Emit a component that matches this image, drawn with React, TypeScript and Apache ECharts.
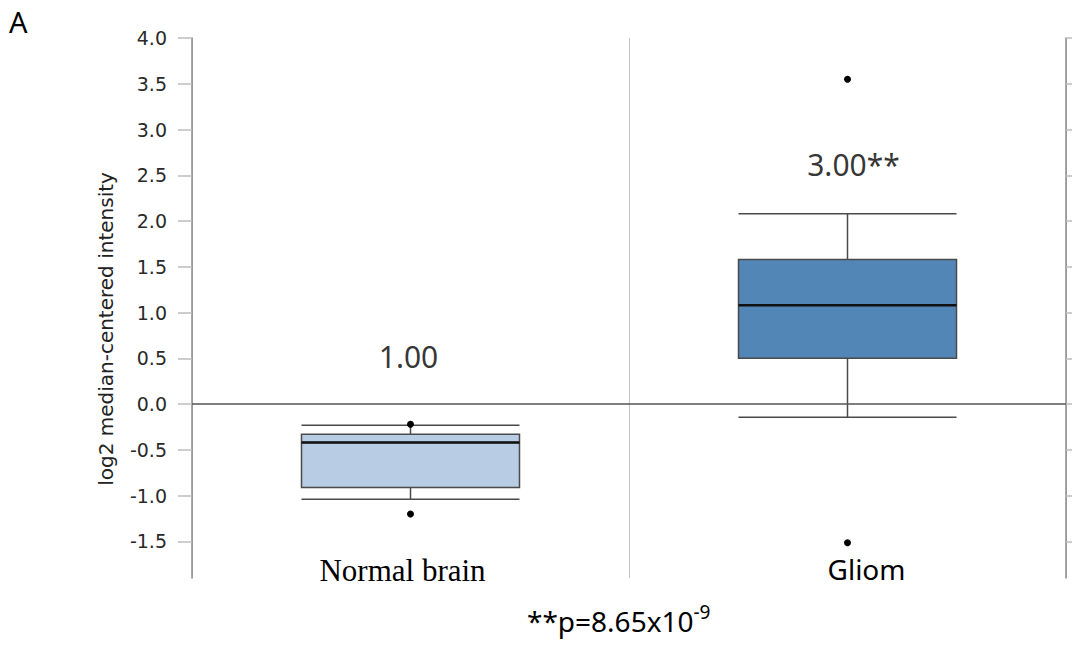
import React, { useEffect, useRef } from "react";
import * as echarts from "echarts";

const categories = ["Normal brain", "Gliom"];
// [min, Q1, median, Q3, max]
const boxValues = [
  [-1.04, -0.91, -0.42, -0.33, -0.23],
  [-0.145, 0.5, 1.08, 1.58, 2.08],
];
const outliers = [
  [0, -0.22],
  [0, -1.2],
  [1, 3.55],
  [1, -1.515],
];
const annotationTexts = ["1.00", "3.00**"];
const annotationY = [0.52, 2.62];
const yTicks = [-1.5, -1.0, -0.5, 0.0, 0.5, 1.0, 1.5, 2.0, 2.5, 3.0, 3.5, 4.0];
const yMin = -1.9;
const yMax = 4.0;

export default function App() {
  const ref = useRef<HTMLDivElement>(null);
  useEffect(() => {
    if (!ref.current) return;
    const chart = echarts.init(ref.current, null, { renderer: "svg" });
    const option: any = {
      animation: false,
      backgroundColor: "#ffffff",
      grid: { left: 192, right: 6, top: 38, bottom: 72 },
      xAxis: {
        type: "category",
        data: categories,
        axisLine: { show: false },
        axisTick: { show: false },
        splitLine: { show: true, lineStyle: { color: "#c4c4c4", width: 1 } },
        axisLabel: {
          margin: -23,
          formatter: (v: string) =>
            v === "Normal brain" ? "{serif|" + v + "}" : "{sans|" + v + "}",
          rich: {
            serif: {
              fontFamily: "Liberation Serif",
              fontSize: 31,
              color: "#000",
              padding: [0, 16, 0, 0],
            },
            sans: {
              fontFamily: "Noto Sans",
              fontSize: 28,
              color: "#000",
              padding: [0, 0, 0, 38],
            },
          },
        },
      },
      yAxis: [
        {
          type: "value",
          min: yMin,
          max: yMax,
          name: "log2 median-centered intensity",
          nameLocation: "middle",
          nameGap: 76,
          nameTextStyle: {
            fontFamily: "DejaVu Sans",
            fontSize: 20,
            color: "#222",
            padding: [0, 42, 0, 0],
          },
          axisLine: { show: true, lineStyle: { color: "#8c8c8c", width: 1.5 } },
          axisTick: {
            show: true,
            length: 14,
            customValues: yTicks,
            lineStyle: { color: "#bdbdbd", width: 1.5 },
          },
          axisLabel: {
            customValues: yTicks,
            margin: 25,
            fontFamily: "DejaVu Sans",
            fontSize: 19,
            color: "#2a2a2a",
            formatter: (v: number) => v.toFixed(1),
          },
          splitLine: { show: false },
        },
        {
          type: "value",
          min: yMin,
          max: yMax,
          position: "right",
          axisLine: { show: true, lineStyle: { color: "#8c8c8c", width: 1.5 } },
          axisTick: {
            show: true,
            length: 6,
            customValues: yTicks,
            lineStyle: { color: "#bdbdbd", width: 1.5 },
          },
          axisLabel: { show: false },
          splitLine: { show: false },
        },
      ],
      series: [
        {
          type: "boxplot",
          data: boxValues.map((v, i) => ({
            value: v,
            itemStyle: { color: i === 0 ? "#b8cde3" : "#5286b7" },
          })),
          boxWidth: [218, 218],
          itemStyle: { borderColor: "#4a4a4a", borderWidth: 1.5 },
          markLine: {
            silent: true,
            symbol: ["none", "none"],
            label: { show: false },
            lineStyle: { color: "#555", type: "solid", width: 1.5 },
            data: [{ yAxis: 0 }],
          },
          z: 2,
        },
        {
          type: "custom",
          data: boxValues.map((v, i) => [i, v[2]]),
          renderItem: (params: any, api: any) => {
            const p = api.coord([api.value(0), api.value(1)]);
            return {
              type: "line",
              shape: { x1: p[0] - 109, y1: p[1], x2: p[0] + 109, y2: p[1] },
              style: { stroke: "#111", lineWidth: 2.5 },
            };
          },
          z: 3,
        },
        {
          type: "scatter",
          data: outliers,
          symbol: "circle",
          symbolSize: 7,
          itemStyle: { color: "#000", opacity: 1 },
          z: 4,
        },
        {
          type: "scatter",
          data: annotationTexts.map((t, i) => ({
            value: [i, annotationY[i]],
            label: {
              show: true,
              position: "inside",
              offset: [i === 0 ? -2 : 6, 0],
              formatter: t,
              fontFamily: "Noto Sans",
              fontSize: 30,
              color: "#000",
            },
          })),
          symbolSize: 0,
          itemStyle: { color: "transparent" },
          z: 5,
        },
      ],
      graphic: [
        {
          type: "text",
          left: 9,
          top: 7,
          style: { text: "A", fontFamily: "Noto Sans", fontSize: 29, fill: "#000" },
        },
        {
          type: "text",
          left: 527,
          top: 602,
          style: {
            text: "{m|**p=8.65x10}{s|-9}",
            rich: {
              m: { fontFamily: "Noto Sans", fontSize: 28, color: "#000" },
              s: {
                fontFamily: "Noto Sans",
                fontSize: 19,
                color: "#000",
                verticalAlign: "top",
                padding: [0, 0, 18, 0],
              },
            },
          },
        },
      ],
    };
    chart.setOption(option);
    return () => chart.dispose();
  }, []);
  return (
    <div
      ref={ref}
      style={{ position: "absolute", left: 0, top: 0, width: 1072, height: 650 }}
    />
  );
}
